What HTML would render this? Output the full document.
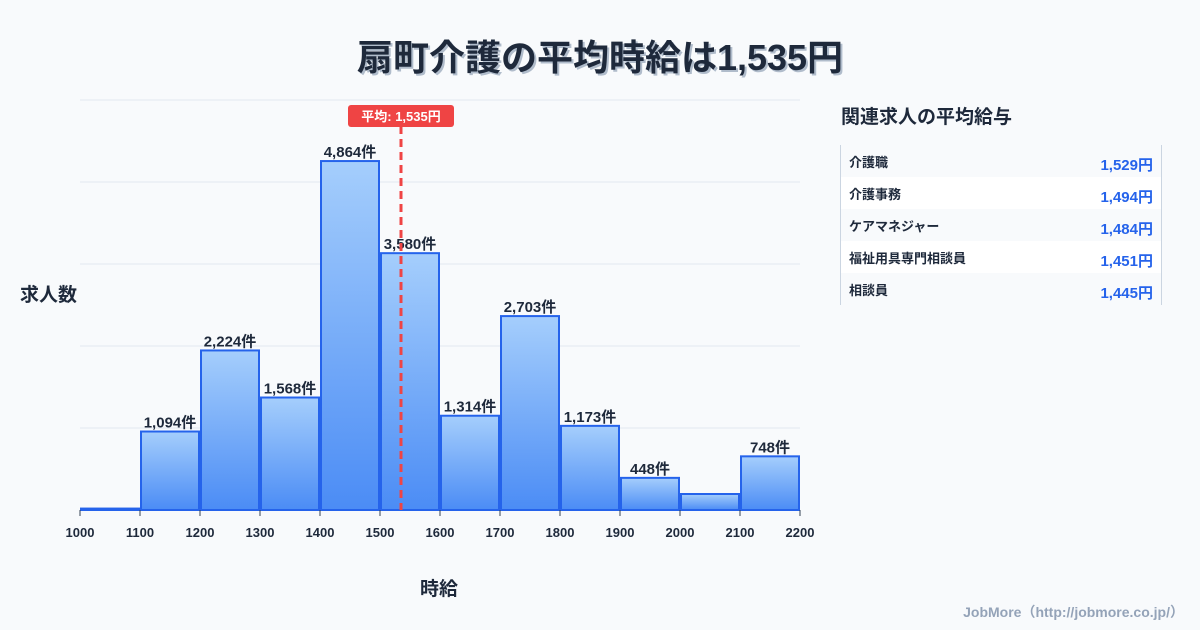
<!DOCTYPE html>
<html><head><meta charset="utf-8">
<style>
body{margin:0;background:#f8fafc;font-family:"Liberation Sans","Noto Sans CJK JP",sans-serif;}
#wrap{position:relative;width:1200px;height:630px;overflow:hidden;background:#f8fafc;}
.t{position:absolute;}
</style></head><body>
<div id="wrap">
<div class="t" style="left:0;width:1200px;top:29px;text-align:center;font-size:36px;font-weight:bold;color:#1e293b;text-shadow:2px 2px 0 #b0bccb;">扇町介護の平均時給は1,535円</div>
<svg id="chart" width="1200" height="630" style="position:absolute;left:0;top:0">
<defs><linearGradient id="g" x1="0" y1="0" x2="0" y2="1"><stop offset="0" stop-color="#a5cefc"/><stop offset="1" stop-color="#4b8cf5"/></linearGradient></defs>
</svg>
<div class="t" style="left:20px;top:280px;font-size:19px;font-weight:bold;color:#1e293b;">求人数</div>
<div class="t" style="left:420px;top:574px;font-size:19px;font-weight:bold;color:#1e293b;">時給</div>
<div class="t" style="left:841px;top:102px;font-size:19px;font-weight:bold;color:#1e293b;">関連求人の平均給与</div>
<div class="t" style="left:840px;top:145px;width:320px;border-left:1px solid #cbd5e1;border-right:1px solid #cbd5e1;" id="tbl"></div>
<div class="t" style="right:16px;top:602px;font-size:14px;font-weight:bold;color:#94a3b8;">JobMore（http://jobmore.co.jp/）</div>
</div>
<script>
const bins=[1000,1100,1200,1300,1400,1500,1600,1700,1800,1900,2000,2100];
const counts=[20,1094,2224,1568,4864,3580,1314,2703,1173,448,223,748];
const labels=["","1,094件","2,224件","1,568件","4,864件","3,580件","1,314件","2,703件","1,173件","448件","","748件"];
const xTicks=[1000,1100,1200,1300,1400,1500,1600,1700,1800,1900,2000,2100,2200];
const meanVal=1535;
const jobs=["介護職","介護事務","ケアマネジャー","福祉用具専門相談員","相談員"];
const pays=["1,529円","1,494円","1,484円","1,451円","1,445円"];
const NS="http://www.w3.org/2000/svg";
const svg=document.getElementById('chart');
const X0=80,X1=800,Y0=510,YT=100,YMAX=5715;
const x=v=>X0+(v-1000)/(2200-1000)*(X1-X0);
const y=v=>Y0-v/YMAX*(Y0-YT);
function mk(t,a,p){const e=document.createElementNS(NS,t);for(const k in a)e.setAttribute(k,a[k]);(p||svg).appendChild(e);return e;}
for(let i=0;i<=5;i++){const g=mk('line',{x1:X0,x2:X1,y1:Y0-i*(Y0-YT)/5,y2:Y0-i*(Y0-YT)/5,stroke:'#e2e8f0','stroke-width':1});

}
bins.forEach((b,i)=>{const x0=x(b)+1,w=x(b+100)-x(b)-2,yt=y(counts[i]);
const r=mk('rect',{x:x0,y:yt,width:w,height:Y0-yt,fill:'url(#g)',stroke:'#2563eb','stroke-width':2});


if(labels[i]){const t=mk('text',{x:x0+w/2,y:yt-4,'text-anchor':'middle','font-size':15,'font-weight':'bold',fill:'#1e293b'});t.textContent=labels[i];

}});
xTicks.forEach(v=>{const l=mk('line',{x1:x(v),x2:x(v),y1:Y0,y2:Y0+6,stroke:'#334155','stroke-width':1});


const t=mk('text',{x:x(v),y:Y0+27,'text-anchor':'middle','font-size':13,'font-weight':'bold',fill:'#1e293b'});t.textContent=v;

});
const ml=mk('line',{x1:x(meanVal),x2:x(meanVal),y1:126,y2:Y0,stroke:'#ef4444','stroke-width':3,'stroke-dasharray':'8,5'});


const mb=mk('rect',{x:x(meanVal)-53,y:105,width:106,height:22,rx:3,fill:'#ef4444'});


const mt=mk('text',{x:x(meanVal),y:121,'text-anchor':'middle','font-size':13,'font-weight':'bold',fill:'#fff'});mt.textContent='平均: 1,535円';


const tbl=document.getElementById('tbl');
jobs.forEach((j,i)=>{const r=document.createElement('div');


r.style.cssText='height:32px;display:flex;justify-content:space-between;align-items:center;padding:0 8px;background:'+(i%2?'#ffffff':'#f8fafc');
r.innerHTML='<span style="font-size:13px;font-weight:bold;color:#1e293b">'+j+'</span><span style="font-size:15px;font-weight:bold;color:#2563eb;margin-top:6px">'+pays[i]+'</span>';
tbl.appendChild(r);});
</script>
</body></html>
